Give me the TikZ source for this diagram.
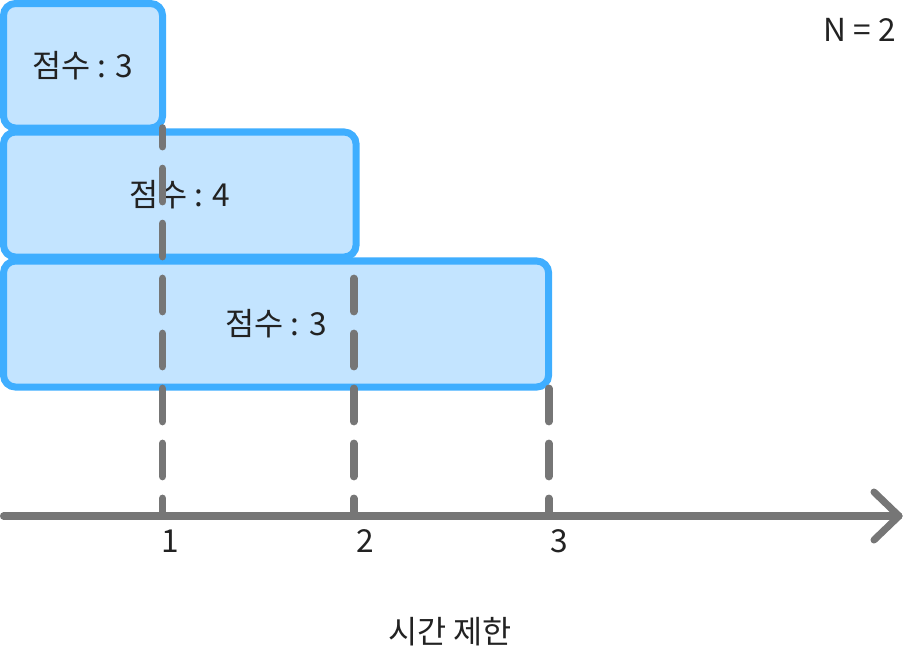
\documentclass[tikz,border=0pt]{standalone}
\usepackage{fontspec}
\setmainfont{Noto Sans CJK KR}
\definecolor{boxfill}{HTML}{C3E4FF}
\definecolor{boxline}{HTML}{3FAEFF}
\definecolor{axisgray}{HTML}{767676}
\definecolor{textdark}{HTML}{222222}
\begin{document}
\begin{tikzpicture}[x=0.025cm, y=-0.025cm,
  scorebox/.style={draw=boxline, fill=boxfill, line width=5pt, rounded corners=8.5pt,
    anchor=north west, inner sep=0pt, outer sep=0pt, text=textdark, font=\fontsize{22.5}{26}\selectfont},
  guide/.style={axisgray, line width=5.5pt, line cap=round, dash pattern=on 23.5pt off 15.6pt, dash phase=11pt},
  axisline/.style={axisgray, line width=5pt, line cap=round, line join=round},
  lbl/.style={text=textdark, inner sep=0pt, font=\fontsize{22.5}{26}\selectfont}]
  \useasboundingbox (0,0) rectangle (904,647);
  % score boxes
  \node[scorebox, minimum width=3.975cm, minimum height=3.1125cm] (box1) at (3.5,3.5) {점수 : 3};
  \node[scorebox, minimum width=8.8125cm, minimum height=3.125cm] (box2) at (3.5,132) {점수 : 4};
  \node[scorebox, minimum width=13.625cm, minimum height=3.15cm] (box3) at (3.5,261) {점수 : 3};
  % axis
  \coordinate (xstart) at (3.5,516);
  \coordinate (xend) at (899,516);
  \coordinate (t1) at (box1.south east |- xstart);
  \coordinate (t2) at ([xshift=-0.06cm]box2.south east |- xstart);
  \coordinate (t3) at (box3.south east |- xstart);
  \draw[guide] (t1) -- (box1.south east);
  \draw[guide] (t2) -- ([xshift=-0.06cm]box2.south east);
  \draw[guide] (t3) -- (box3.south east);
  \draw[axisline] (xstart) -- (xend);
  \draw[axisline] (xend) ++(-25,-24) -- (xend) -- ++(-25,24);
  % labels
  \node[lbl] (l1) at ([xshift=0.2cm, yshift=-0.625cm]t1) {1};
  \node[lbl] (l2) at ([xshift=0.28cm, yshift=-0.625cm]t2) {2};
  \node[lbl] (l3) at ([xshift=0.27cm, yshift=-0.625cm]t3) {3};
  \node[lbl] (title) at (450,632) {시간 제한};
  \node[lbl] (nval) at (860,30) {N = 2};
\end{tikzpicture}
\end{document}
